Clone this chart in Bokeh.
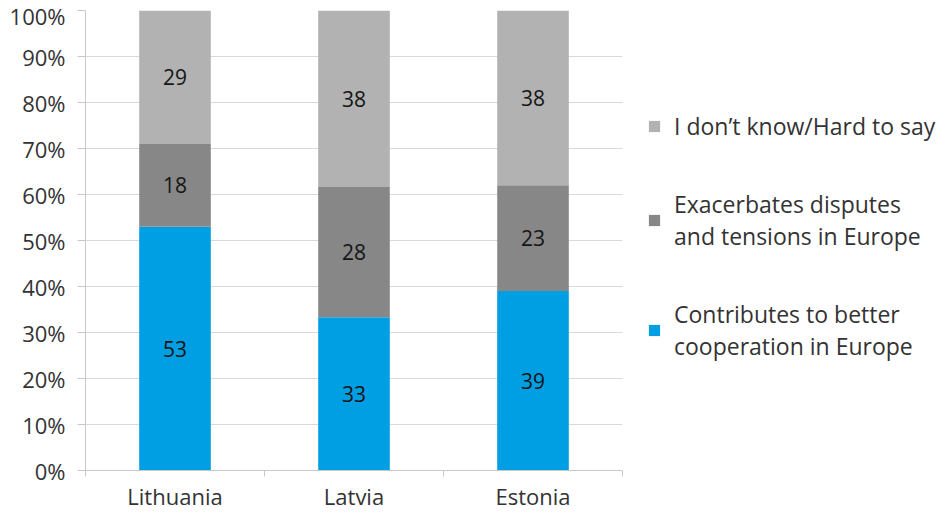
from bokeh.plotting import figure
from bokeh.models import (ColumnDataSource, FixedTicker, NumeralTickFormatter,
                          Legend, LegendItem, Range1d)
from bokeh.core.properties import value
from bokeh.embed import file_html
from bokeh.resources import INLINE

countries = ["Lithuania", "Latvia", "Estonia"]
contributes = [53, 33, 39]
exacerbates = [18, 28, 23]
dont_know = [29, 38, 38]

series_names = ["Contributes to better\ncooperation in Europe",
                "Exacerbates disputes\nand tensions in Europe",
                "I don\u2019t know/Hard to say"]
colors = ["#009FE3", "#878787", "#B2B2B2"]

FONT = "Open Sans"

# normalise each country's answers to 100%
totals = [a + b + c for a, b, c in zip(contributes, exacerbates, dont_know)]
xs = [i + 0.5 for i in range(len(countries))]
data = dict(
    x=xs,
    c=[v / t for v, t in zip(contributes, totals)],
    e=[v / t for v, t in zip(exacerbates, totals)],
    d=[v / t for v, t in zip(dont_know, totals)],
)
src = ColumnDataSource(data)

p = figure(width=935, height=502, output_backend="svg", toolbar_location=None,
           x_range=Range1d(0, len(countries)), y_range=Range1d(0, 1),
           frame_width=537, frame_height=460,
           min_border_left=85, min_border_right=0, min_border_top=10,
           min_border_bottom=32)
p.outline_line_color = None

renderers = p.vbar_stack(["c", "e", "d"], x="x", width=0.4, source=src,
                         color=colors, line_color=None)

# segment labels
lx, ly, lt = [], [], []
for i in range(len(countries)):
    base = 0.0
    for vals, norm in ((contributes, data["c"]), (exacerbates, data["e"]), (dont_know, data["d"])):
        lx.append(xs[i])
        ly.append(base + norm[i] / 2)
        lt.append(str(vals[i]))
        base += norm[i]
p.text(x=lx, y=ly, text=lt, text_align="center", text_baseline="middle",
       text_font=value(FONT), text_font_size="21px", text_color="#151515")

# y axis
p.yaxis.ticker = FixedTicker(ticks=[i / 10 for i in range(11)])
p.yaxis.formatter = NumeralTickFormatter(format="0%")
p.yaxis.major_label_text_font = FONT
p.yaxis.major_label_text_font_size = "22px"
p.yaxis.major_label_text_color = "#333333"
p.yaxis.axis_line_color = "#c8c8c8"
p.yaxis.major_tick_line_color = "#c8c8c8"
p.yaxis.major_tick_in = 0
p.yaxis.major_tick_out = 8
p.yaxis.minor_tick_line_color = None
p.yaxis.major_label_standoff = 12

# x axis
p.xaxis.ticker = FixedTicker(ticks=xs, minor_ticks=list(range(len(countries) + 1)))
p.xaxis.major_label_overrides = {x: c for x, c in zip(xs, countries)}
p.xaxis.major_label_text_font = FONT
p.xaxis.major_label_text_font_size = "22px"
p.xaxis.major_label_text_color = "#333333"
p.xaxis.axis_line_color = "#c8c8c8"
p.xaxis.major_tick_line_color = None
p.xaxis.major_tick_out = 6
p.xaxis.minor_tick_line_color = "#c8c8c8"
p.xaxis.minor_tick_in = 0
p.xaxis.minor_tick_out = 6
p.xaxis.major_label_standoff = 4

p.xgrid.grid_line_color = None
p.ygrid.grid_line_color = "#d9d9d9"

legend = Legend(items=[LegendItem(label=series_names[k], renderers=[renderers[k]]) for k in (2, 1, 0)],
                location=(25, 108), orientation="vertical",
                label_text_font=FONT, label_text_font_size="23px",
                label_text_color="#333333", glyph_width=14, glyph_height=14,
                label_standoff=13, border_line_color=None,
                background_fill_alpha=0, padding=0, margin=0, spacing=46)
p.add_layout(legend, "right")

open("out.html", "w").write(file_html(p, INLINE))
